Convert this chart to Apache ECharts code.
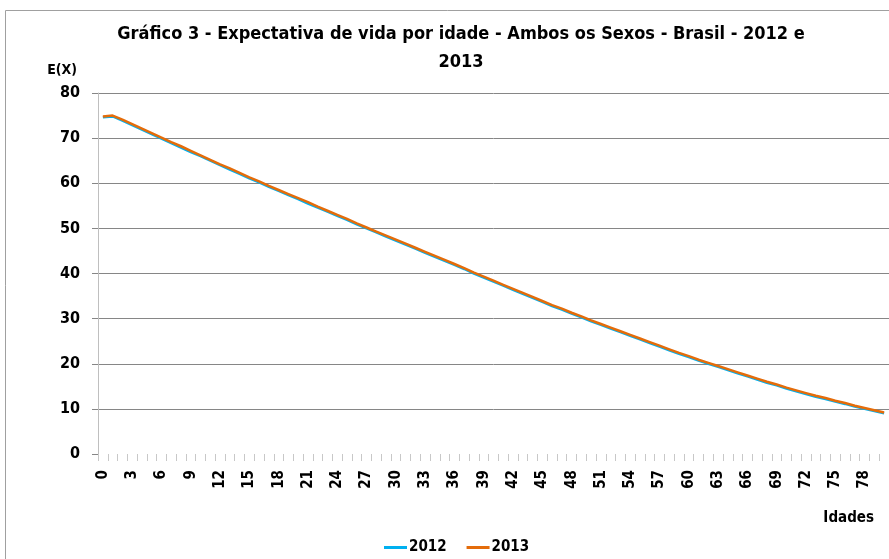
<!DOCTYPE html>
<html>
<head>
<meta charset="utf-8">
<script src="https://cdn.jsdelivr.net/npm/echarts@6/dist/echarts.min.js"></script>
<style>
  html, body { margin: 0; padding: 0; background: #fff; }
  #chart { width: 889px; height: 559px; }
</style>
</head>
<body>
<div id="chart"></div>
<script>
// idades 0..80
const ages = [];
for (let i = 0; i <= 80; i++) ages.push(String(i));

const e2012 = [
  74.6, 74.8, 73.9, 72.9, 71.9, 70.9, 69.9, 68.9, 67.9, 66.9,
  66.0, 65.0, 64.0, 63.0, 62.1, 61.1, 60.2, 59.2, 58.3, 57.4,
  56.5, 55.5, 54.6, 53.7, 52.8, 51.9, 50.9, 50.0, 49.1, 48.2,
  47.3, 46.4, 45.5, 44.6, 43.7, 42.8, 41.9, 41.0, 40.0, 39.1,
  38.2, 37.3, 36.4, 35.5, 34.6, 33.7, 32.8, 32.0, 31.1, 30.3,
  29.4, 28.6, 27.8, 27.0, 26.2, 25.4, 24.6, 23.8, 23.0, 22.2,
  21.5, 20.7, 20.0, 19.3, 18.6, 17.9, 17.2, 16.5, 15.8, 15.2,
  14.5, 13.9, 13.3, 12.7, 12.2, 11.6, 11.1, 10.5, 10.0, 9.5,
  9.0
];
const e2013 = [
  74.8, 75.0, 74.1, 73.1, 72.1, 71.1, 70.1, 69.1, 68.2, 67.2,
  66.2, 65.2, 64.2, 63.3, 62.3, 61.3, 60.4, 59.4, 58.5, 57.6,
  56.7, 55.8, 54.8, 53.9, 53.0, 52.1, 51.1, 50.2, 49.3, 48.4,
  47.5, 46.6, 45.7, 44.8, 43.9, 43.0, 42.1, 41.2, 40.2, 39.3,
  38.4, 37.5, 36.6, 35.7, 34.8, 33.9, 33.0, 32.2, 31.3, 30.5,
  29.6, 28.8, 28.0, 27.2, 26.4, 25.6, 24.8, 24.0, 23.2, 22.4,
  21.7, 20.9, 20.2, 19.5, 18.8, 18.1, 17.4, 16.7, 16.0, 15.4,
  14.7, 14.1, 13.5, 12.9, 12.4, 11.8, 11.3, 10.7, 10.2, 9.7,
  9.2
];

const FONT = "'DejaVu Sans Condensed', sans-serif";
const BLUE = '#00b0f0';
const ORANGE = '#e46c0a';
const GRID = '#868686';
const INK = '#000';

const chart = echarts.init(document.getElementById('chart'));
chart.setOption({
  animation: false,
  textStyle: { fontFamily: FONT },
  graphic: [
    {
      type: 'rect',
      z: -1,
      shape: { x: 5.5, y: 10.5, width: 900, height: 600 },
      style: { fill: 'none', stroke: '#a0a0a0', lineWidth: 1 },
    },
  ],
  title: {
    text: 'Gráfico 3 - Expectativa de vida por idade - Ambos os Sexos - Brasil - 2012 e\n2013',
    left: 456,
    top: 15,
    textAlign: 'center',
    textStyle: { fontFamily: FONT, fontSize: 18, fontWeight: 'bold', color: INK, lineHeight: 28 },
  },
  legend: {
    bottom: -1,
    left: 379,
    icon: 'rect',
    itemWidth: 23,
    itemHeight: 3,
    itemGap: 20,
    textStyle: { fontFamily: FONT, fontSize: 15, fontWeight: 'bold', color: INK, padding: [0, 0, 0, -3] },
    data: ['2012', '2013'],
  },
  grid: { left: 98, right: -3, top: 93, bottom: 105 },
  xAxis: {
    type: 'category',
    data: ages,
    boundaryGap: true,
    name: 'Idades',
    nameLocation: 'end',
    nameGap: 0,
    nameTextStyle: {
      fontFamily: FONT, fontSize: 15, fontWeight: 'bold', color: INK,
      align: 'right', verticalAlign: 'top', padding: [57, 15, 0, 0],
    },
    axisLine: { show: false },
    axisTick: { show: true, interval: 0, length: 7, lineStyle: { color: '#c8c8c8' } },
    axisLabel: {
      interval: 2, rotate: 90, margin: 16,
      fontFamily: FONT, fontSize: 15, fontWeight: 'bold', color: INK,
    },
  },
  yAxis: {
    type: 'value',
    min: 0,
    max: 80,
    interval: 10,
    name: 'E(X)',
    nameLocation: 'end',
    nameGap: 16,
    nameTextStyle: {
      fontFamily: FONT, fontSize: 14, fontWeight: 'bold', color: INK,
      align: 'right', padding: [0, 21, 0, 0],
    },
    axisLine: { show: true, lineStyle: { color: '#bfbfbf' } },
    axisTick: { show: true, length: 6, lineStyle: { color: GRID } },
    axisLabel: { margin: 18, fontFamily: FONT, fontSize: 16, fontWeight: 'bold', color: INK },
    splitLine: { show: true, showMinLine: false, lineStyle: { color: GRID, width: 1 } },
  },
  series: [
    {
      name: '2012',
      type: 'line',
      data: e2012,
      symbol: 'none',
      itemStyle: { color: BLUE },
      lineStyle: { color: BLUE, width: 2.5 },
    },
    {
      name: '2013',
      type: 'line',
      data: e2013,
      symbol: 'none',
      itemStyle: { color: ORANGE },
      lineStyle: { color: ORANGE, width: 2.5 },
    },
  ],
});
</script>
</body>
</html>
